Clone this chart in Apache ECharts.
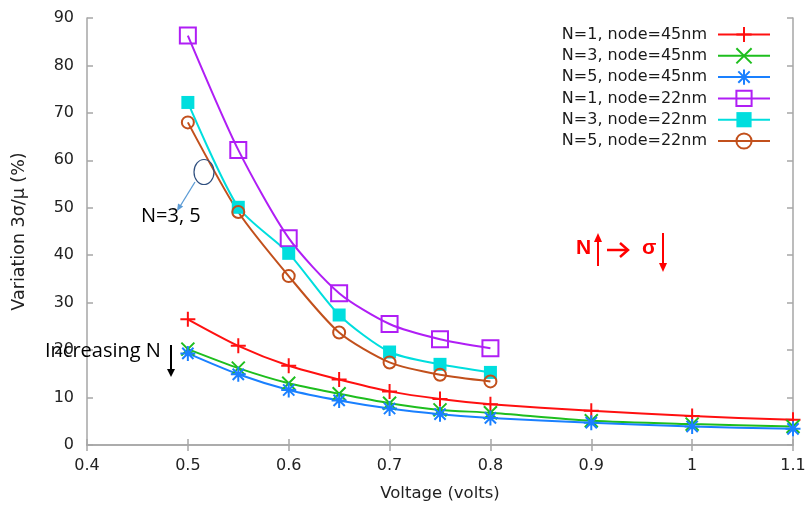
<!DOCTYPE html>
<html>
<head>
<meta charset="utf-8">
<script src="https://cdn.jsdelivr.net/npm/echarts@6/dist/echarts.min.js"></script>
<style>
html, body { margin: 0; padding: 0; background: #fff; }
#chart { width: 810px; height: 508px; }
</style>
</head>
<body>
<div id="chart"></div>
<script>
// Supply voltage (volts) for each technology node
const volts45 = [0.5, 0.55, 0.6, 0.65, 0.7, 0.75, 0.8, 0.9, 1.0, 1.1];
const volts22 = [0.5, 0.55, 0.6, 0.65, 0.7, 0.75, 0.8];

// Variation 3σ/μ (%) per configuration
const n1_45 = [26.5, 20.9, 16.7, 13.8, 11.3, 9.7, 8.6, 7.2, 6.1, 5.3];
const n3_45 = [20.2, 16.2, 13.0, 10.8, 8.8, 7.4, 6.8, 5.1, 4.4, 3.9];
const n5_45 = [19.3, 14.9, 11.6, 9.4, 7.7, 6.5, 5.7, 4.7, 3.9, 3.4];
const n1_22 = [86.3, 62.2, 43.6, 32.0, 25.5, 22.3, 20.4];
const n3_22 = [72.2, 50.1, 40.4, 27.4, 19.6, 17.0, 15.3];
const n5_22 = [68.0, 49.1, 35.6, 23.7, 17.4, 14.8, 13.4];

const seriesNames = [
  'N=1, node=45nm', 'N=3, node=45nm', 'N=5, node=45nm',
  'N=1, node=22nm', 'N=3, node=22nm', 'N=5, node=22nm'
];

// Axis ranges and tick steps
const xRange = [0.4, 1.1];
const xStep = 0.1;
const yRange = [0, 90];
const yStep = 10;

const PLUS = 'path://M0,-10L0,10M-10,0L10,0';
const CROSS = 'path://M-10,-10L10,10M-10,10L10,-10';
const STAR = 'path://M0,-10L0,10M-10,0L10,0M-7.5,-7.5L7.5,7.5M-7.5,7.5L7.5,-7.5';

function pairs(xs, ys) {
  return xs.map((x, i) => [x, ys[i]]);
}

function makeSeries(name, xs, ys, color, symbol, size, filled) {
  return {
    name: name,
    type: 'line',
    data: pairs(xs, ys),
    smooth: 0.25,
    symbol: symbol,
    symbolSize: size,
    showAllSymbol: true,
    lineStyle: { color: color, width: 2 },
    itemStyle: {
      color: filled ? color : 'rgba(0,0,0,0)',
      borderColor: color,
      borderWidth: filled ? 0 : 2
    },
    emphasis: { disabled: true },
    z: 3
  };
}

const AXIS_COLOR = '#a6a6a6';
const FONT = '"DejaVu Sans", Arial, sans-serif';
const NOTE_FONT = '"Liberation Sans", Arial, sans-serif';

const chart = echarts.init(document.getElementById('chart'), null, { renderer: 'canvas' });

const frameAxis = {
  axisLine: { show: true, lineStyle: { color: AXIS_COLOR, width: 1.5 } },
  axisTick: { show: true, inside: true, length: 6, lineStyle: { color: AXIS_COLOR, width: 1.5 } },
  splitLine: { show: false }
};

chart.setOption({
  animation: false,
  backgroundColor: '#fff',
  grid: { left: 87, right: 17, top: 18, bottom: 63, containLabel: false },
  legend: {
    orient: 'vertical',
    right: 39,
    top: 25,
    padding: 0,
    align: 'right',
    itemWidth: 52,
    itemHeight: 19,
    itemGap: 2.3,
    data: seriesNames,
    textStyle: { fontFamily: FONT, fontSize: 16, color: '#1a1a1a', lineHeight: 19, padding: [0, 6, 0, 0] },
    selectedMode: false
  },
  xAxis: [
    Object.assign({
      type: 'value', position: 'bottom', min: xRange[0], max: xRange[1], interval: xStep,
      name: 'Voltage (volts)', nameLocation: 'middle', nameGap: 40,
      nameTextStyle: { fontFamily: FONT, fontSize: 16.5, color: '#222' },
      axisLabel: { fontFamily: FONT, fontSize: 16, color: '#222', margin: 13 }
    }, frameAxis),
    Object.assign({
      type: 'value', position: 'top', min: xRange[0], max: xRange[1], interval: xStep,
      axisLabel: { show: false }
    }, frameAxis)
  ],
  yAxis: [
    Object.assign({
      type: 'value', position: 'left', min: yRange[0], max: yRange[1], interval: yStep,
      name: 'Variation 3σ/μ (%)', nameLocation: 'middle', nameGap: 59,
      nameTextStyle: { fontFamily: FONT, fontSize: 17.5, color: '#222' },
      axisLabel: { fontFamily: FONT, fontSize: 16, color: '#222', margin: 13 }
    }, frameAxis),
    Object.assign({
      type: 'value', position: 'right', min: yRange[0], max: yRange[1], interval: yStep,
      axisLabel: { show: false }
    }, frameAxis)
  ],
  series: [
    makeSeries(seriesNames[0], volts45, n1_45, '#ff1010', PLUS, 15, false),
    makeSeries(seriesNames[1], volts45, n3_45, '#1ebe1e', CROSS, 13, false),
    makeSeries(seriesNames[2], volts45, n5_45, '#1a80ff', STAR, 15, false),
    makeSeries(seriesNames[3], volts22, n1_22, '#b01ef5', 'rect', 16, false),
    makeSeries(seriesNames[4], volts22, n3_22, '#00dede', 'rect', 13, true),
    makeSeries(seriesNames[5], volts22, n5_22, '#c2501c', 'circle', 12, false)
  ],
  graphic: [
    // "Increasing N" note with downward arrow
    { type: 'text', left: 45, top: 341, z: 10,
      style: { text: 'Increasing N', fontFamily: '"Open Sans", sans-serif', fontSize: 20, fill: '#000' } },
    { type: 'line', z: 10, shape: { x1: 171, y1: 345, x2: 171, y2: 370 }, style: { stroke: '#000', lineWidth: 2 } },
    { type: 'polygon', z: 10, shape: { points: [[167, 369], [175, 369], [171, 377]] }, style: { fill: '#000' } },

    // "N=3, 5" callout with ellipse and pointer
    { type: 'ellipse', z: 10, shape: { cx: 204, cy: 172, rx: 10, ry: 12.5 },
      style: { fill: 'none', stroke: '#2f4f7f', lineWidth: 1.2 } },
    { type: 'line', z: 10, shape: { x1: 195, y1: 182, x2: 179, y2: 208 }, style: { stroke: '#5b9bd5', lineWidth: 1.3 } },
    { type: 'polygon', z: 10, shape: { points: [[177, 211], [183.2, 206.6], [178.0, 203.5]] }, style: { fill: '#5b9bd5' } },
    { type: 'text', left: 141, top: 206, z: 10,
      style: { text: 'N=3, 5', fontFamily: '"Open Sans", sans-serif', fontSize: 20, fill: '#000' } },

    // "N ↑ → σ ↓" note in red
    { type: 'text', left: 576, top: 238, z: 10,
      style: { text: 'N', fontFamily: NOTE_FONT, fontSize: 21, fontWeight: 'bold', fill: '#ff0000' } },
    { type: 'line', z: 10, shape: { x1: 598, y1: 240, x2: 598, y2: 266 }, style: { stroke: '#ff0000', lineWidth: 2 } },
    { type: 'polygon', z: 10, shape: { points: [[594, 242], [602, 242], [598, 233]] }, style: { fill: '#ff0000' } },
    { type: 'line', z: 10, shape: { x1: 607, y1: 250, x2: 627, y2: 250 }, style: { stroke: '#ff0000', lineWidth: 2.5 } },
    { type: 'polyline', z: 10, shape: { points: [[620, 243], [628, 250], [620, 257]] }, style: { stroke: '#ff0000', lineWidth: 2.5, fill: 'none' } },
    { type: 'text', left: 642, top: 238, z: 10,
      style: { text: 'σ', fontFamily: NOTE_FONT, fontSize: 21, fontWeight: 'bold', fill: '#ff0000' } },
    { type: 'line', z: 10, shape: { x1: 663, y1: 233, x2: 663, y2: 264 }, style: { stroke: '#ff0000', lineWidth: 2 } },
    { type: 'polygon', z: 10, shape: { points: [[659, 263], [667, 263], [663, 272]] }, style: { fill: '#ff0000' } }
  ]
});
</script>
</body>
</html>
